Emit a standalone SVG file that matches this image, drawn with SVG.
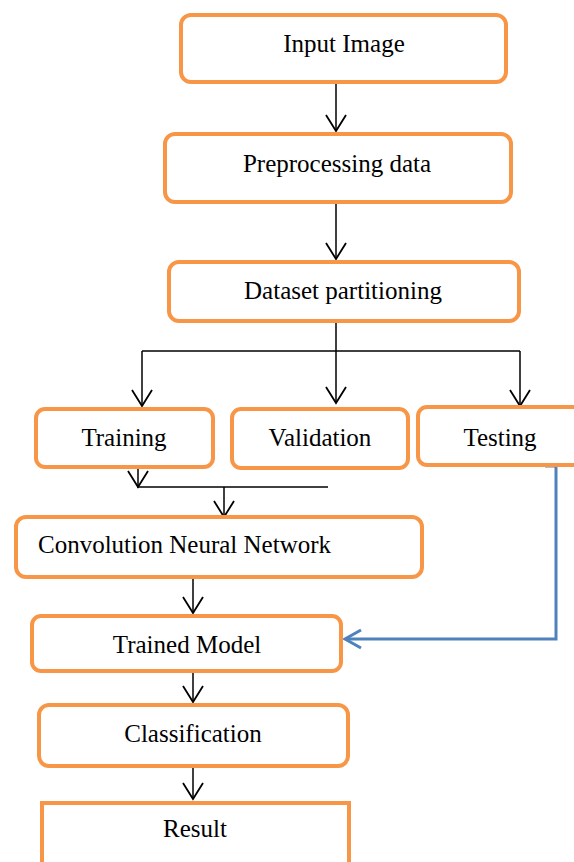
<svg xmlns="http://www.w3.org/2000/svg" width="574" height="862" viewBox="0 0 574 862">
<defs>
<style>
.box{fill:#fff;stroke:#F79646;stroke-width:4}
.t{font-family:"Liberation Serif","Times New Roman",serif;font-size:25px;fill:#000}
.c{text-anchor:middle}
.ln{fill:none;stroke:#000;stroke-width:1.5}
.bl{fill:none;stroke:#4F81BD;stroke-width:3}
</style>
<marker id="ah" markerUnits="userSpaceOnUse" orient="auto" refX="0" refY="0" markerWidth="20" markerHeight="24" viewBox="-18 -11 20 22" overflow="visible">
<path d="M-16,-10 L0,0 L-16,10" fill="none" stroke="#000" stroke-width="1.8"/>
</marker>
<marker id="ahb" markerUnits="userSpaceOnUse" orient="auto" refX="0" refY="0" markerWidth="20" markerHeight="24" viewBox="-18 -11 20 22" overflow="visible">
<path d="M-16,-9 L0,0 L-16,9" fill="none" stroke="#4F81BD" stroke-width="3"/>
</marker>
</defs>
<rect width="574" height="862" fill="#fff"/>
<g id="connectors">
<line class="ln" x1="336" y1="84" x2="336" y2="131" marker-end="url(#ah)"/>
<line class="ln" x1="336" y1="204" x2="336" y2="259" marker-end="url(#ah)"/>
<line class="ln" x1="336" y1="323" x2="336" y2="403" marker-end="url(#ah)"/>
<line class="ln" x1="142" y1="351" x2="520" y2="351"/>
<line class="ln" x1="142" y1="351" x2="142" y2="406" marker-end="url(#ah)"/>
<line class="ln" x1="520" y1="351" x2="520" y2="406" marker-end="url(#ah)"/>
<line class="ln" x1="138" y1="469" x2="138" y2="487" marker-end="url(#ah)"/>
<line class="ln" x1="137" y1="487" x2="328" y2="487"/>
<line class="ln" x1="224" y1="487" x2="224" y2="517" marker-end="url(#ah)"/>
<line class="ln" x1="193" y1="579" x2="193" y2="613" marker-end="url(#ah)"/>
<line class="ln" x1="193" y1="673" x2="193" y2="702" marker-end="url(#ah)"/>
<line class="ln" x1="193" y1="768" x2="193" y2="799" marker-end="url(#ah)"/>
<polyline class="bl" points="545,466 556,466 556,639 345,639" marker-end="url(#ahb)"/>
</g>
<g id="input-image"><rect class="box" x="181" y="15" width="325" height="67" rx="10"/><text class="t c" x="344" y="52">Input Image</text></g>
<g id="preprocessing"><rect class="box" x="165" y="134" width="346" height="68" rx="10"/><text class="t c" x="337" y="172">Preprocessing data</text></g>
<g id="dataset-partitioning"><rect class="box" x="169" y="262" width="350" height="59" rx="10"/><text class="t c" x="343" y="299">Dataset partitioning</text></g>
<g id="training"><rect class="box" x="36" y="409" width="177" height="58" rx="9"/><text class="t c" x="124" y="446">Training</text></g>
<g id="validation"><rect class="box" x="232" y="409" width="176" height="59" rx="9"/><text class="t c" x="320" y="446">Validation</text></g>
<g id="testing"><rect class="box" x="418" y="407" width="170" height="58" rx="9"/><text class="t c" x="500" y="446">Testing</text></g>
<g id="cnn"><rect class="box" x="16" y="517" width="406" height="60" rx="10"/><text class="t" x="38" y="553">Convolution Neural Network</text></g>
<g id="trained-model"><rect class="box" x="32" y="616" width="309" height="55" rx="9"/><text class="t c" x="187" y="653">Trained Model</text></g>
<g id="classification"><rect class="box" x="39" y="705" width="309" height="61" rx="10"/><text class="t c" x="193" y="742">Classification</text></g>
<g id="result"><rect class="box" x="42" y="803" width="307" height="80"/><text class="t c" x="195" y="837">Result</text></g>
</svg>
